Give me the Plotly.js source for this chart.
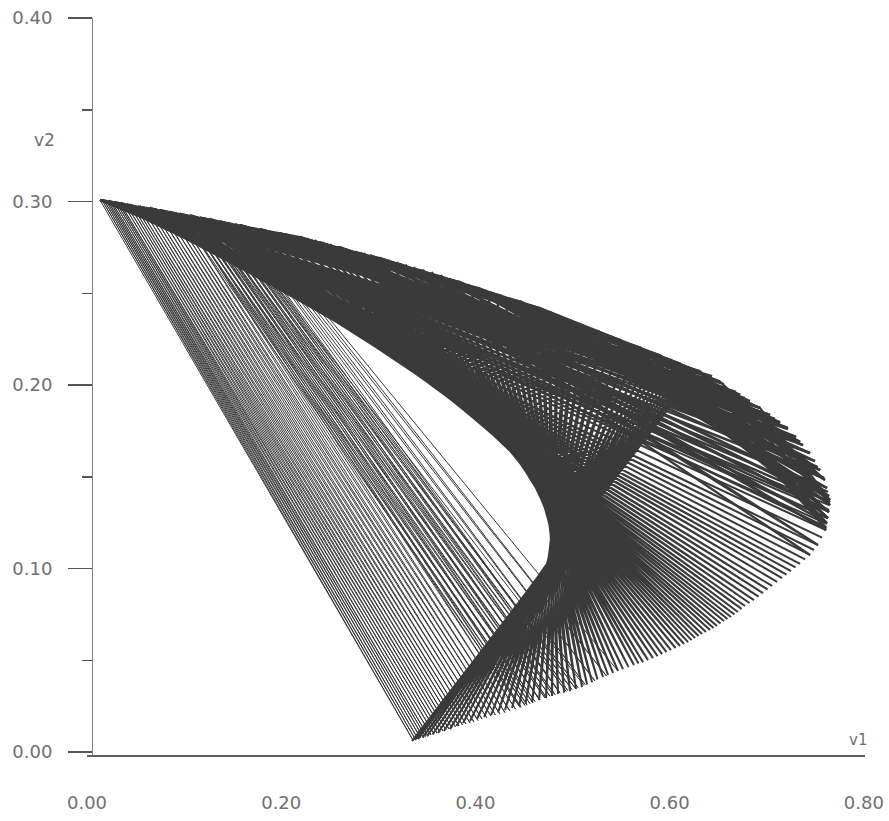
<!DOCTYPE html>
<html>
<head>
<meta charset="utf-8">
<script src="https://cdn.plot.ly/plotly-3.0.1.min.js"></script>
<style>
  html, body { margin: 0; padding: 0; background: #ffffff; }
  #chart { width: 889px; height: 821px; }
</style>
</head>
<body>
<div id="chart"></div>
<script>
// Tick values and labels
const xTickVals = [0.0, 0.2, 0.4, 0.6, 0.8];
const xTickText = ["0.00", "0.20", "0.40", "0.60", "0.80"];
const yTickVals = [0.0, 0.1, 0.2, 0.3, 0.4];
const yTickText = ["0.00", "0.10", "0.20", "0.30", "0.40"];
const yMinorVals = [0.05, 0.15, 0.25, 0.35];

// Trajectory H (alternating points: upper arc <-> lower boundary), forms the caustic
const hV1 = [0.0134,0.7642, 0.0150,0.7637, 0.0165,0.7631, 0.0181,0.7621, 0.0196,0.7611, 0.0216,0.7570,
  0.0237,0.7528, 0.0258,0.7487, 0.0278,0.7446, 0.0299,0.7395, 0.0319,0.7343, 0.0350,0.7297,
  0.0381,0.7250, 0.0438,0.7204, 0.0494,0.7158, 0.0561,0.7107, 0.0628,0.7055, 0.0700,0.7009,
  0.0772,0.6962, 0.0850,0.6916, 0.0927,0.6869, 0.1004,0.6823, 0.1081,0.6777, 0.1159,0.6741,
  0.1236,0.6704, 0.1313,0.6668, 0.1390,0.6632, 0.1468,0.6596, 0.1545,0.6560, 0.1622,0.6524,
  0.1699,0.6488, 0.1782,0.6452, 0.1864,0.6416, 0.1947,0.6375, 0.2029,0.6334, 0.2112,0.6298,
  0.2194,0.6262, 0.2271,0.6226, 0.2348,0.6190, 0.2426,0.6149, 0.2503,0.6107, 0.2591,0.6061,
  0.2678,0.6014, 0.2766,0.5968, 0.2853,0.5922, 0.2936,0.5876, 0.3018,0.5829, 0.3106,0.5778,
  0.3193,0.5726, 0.3281,0.5680, 0.3368,0.5633, 0.3461,0.5577, 0.3553,0.5520, 0.3646,0.5469,
  0.3738,0.5417, 0.3831,0.5366, 0.3924,0.5314, 0.4017,0.5258, 0.4109,0.5201, 0.4202,0.5150,
  0.4295,0.5098, 0.4388,0.5036, 0.4480,0.4974, 0.4573,0.4913, 0.4665,0.4851, 0.4758,0.4789,
  0.4851,0.4727, 0.4944,0.4655, 0.5036,0.4583, 0.5129,0.4516, 0.5221,0.4449, 0.5314,0.4377,
  0.5407,0.4305, 0.5500,0.4233, 0.5592,0.4161, 0.5670,0.4089, 0.5747,0.4016, 0.5814,0.3944,
  0.5881,0.3872, 0.5933,0.3805, 0.5984,0.3738, 0.6030,0.3677, 0.6076,0.3615, 0.6118,0.3559,
  0.6159,0.3502, 0.6195,0.3456, 0.6231,0.3409, 0.6262,0.3378, 0.6293,0.3347];
const hV2 = [0.3008,0.1346, 0.3008,0.1310, 0.3008,0.1275, 0.3005,0.1243, 0.3003,0.1210, 0.3000,0.1169,
  0.2997,0.1128, 0.2997,0.1101, 0.2997,0.1074, 0.2995,0.1050, 0.2992,0.1025, 0.2989,0.1006,
  0.2986,0.0986, 0.2981,0.0967, 0.2975,0.0948, 0.2970,0.0927, 0.2965,0.0905, 0.2957,0.0886,
  0.2948,0.0866, 0.2940,0.0847, 0.2932,0.0828, 0.2927,0.0812, 0.2921,0.0796, 0.2913,0.0780,
  0.2905,0.0763, 0.2897,0.0750, 0.2888,0.0736, 0.2877,0.0725, 0.2866,0.0714, 0.2858,0.0701,
  0.2850,0.0687, 0.2842,0.0676, 0.2834,0.0665, 0.2826,0.0654, 0.2817,0.0643, 0.2812,0.0632,
  0.2807,0.0621, 0.2799,0.0610, 0.2790,0.0599, 0.2779,0.0589, 0.2768,0.0578, 0.2755,0.0567,
  0.2741,0.0556, 0.2730,0.0545, 0.2719,0.0534, 0.2706,0.0523, 0.2692,0.0512, 0.2681,0.0501,
  0.2670,0.0490, 0.2657,0.0482, 0.2643,0.0474, 0.2630,0.0463, 0.2616,0.0452, 0.2600,0.0442,
  0.2583,0.0431, 0.2567,0.0420, 0.2550,0.0409, 0.2534,0.0395, 0.2518,0.0381, 0.2499,0.0368,
  0.2480,0.0354, 0.2464,0.0343, 0.2447,0.0332, 0.2434,0.0324, 0.2420,0.0316, 0.2401,0.0305,
  0.2381,0.0294, 0.2362,0.0283, 0.2343,0.0272, 0.2322,0.0262, 0.2300,0.0251, 0.2281,0.0240,
  0.2262,0.0229, 0.2243,0.0216, 0.2223,0.0202, 0.2207,0.0191, 0.2191,0.0180, 0.2180,0.0169,
  0.2169,0.0158, 0.2158,0.0142, 0.2147,0.0125, 0.2136,0.0115, 0.2125,0.0104, 0.2117,0.0096,
  0.2109,0.0087, 0.2101,0.0079, 0.2093,0.0071, 0.2088,0.0066, 0.2082,0.0060];

// Trajectory L (left fan: near the start point <-> bottom)
const lV1 = [0.0134,0.3357, 0.0155,0.3383, 0.0175,0.3409, 0.0196,0.3435, 0.0216,0.3460, 0.0237,0.3486,
  0.0257,0.3512, 0.0278,0.3543, 0.0299,0.3574, 0.0320,0.3605, 0.0340,0.3635, 0.0371,0.3666,
  0.0402,0.3697, 0.0433,0.3728, 0.0463,0.3759, 0.0494,0.3795, 0.0525,0.3831, 0.0561,0.3867,
  0.0597,0.3903, 0.0633,0.3945, 0.0669,0.3986, 0.0711,0.4027, 0.0752,0.4068, 0.0793,0.4115,
  0.0834,0.4161, 0.0876,0.4207, 0.0917,0.4253, 0.0963,0.4305, 0.1009,0.4356, 0.1061,0.4413,
  0.1112,0.4470, 0.1164,0.4532, 0.1215,0.4593, 0.1267,0.4660, 0.1318,0.4727, 0.1370,0.4799,
  0.1421,0.4871, 0.1473,0.4949, 0.1524,0.5026, 0.1576,0.5129, 0.1627,0.5232, 0.1679,0.5351,
  0.1730,0.5469];
const lV2 = [0.3008,0.0065, 0.3008,0.0068, 0.3008,0.0071, 0.3006,0.0077, 0.3003,0.0082, 0.3000,0.0085,
  0.2997,0.0087, 0.2997,0.0093, 0.2997,0.0098, 0.2995,0.0104, 0.2992,0.0109, 0.2989,0.0115,
  0.2986,0.0120, 0.2984,0.0126, 0.2981,0.0131, 0.2978,0.0137, 0.2975,0.0142, 0.2973,0.0148,
  0.2970,0.0153, 0.2968,0.0158, 0.2965,0.0163, 0.2960,0.0172, 0.2954,0.0180, 0.2951,0.0188,
  0.2948,0.0196, 0.2943,0.0202, 0.2937,0.0207, 0.2935,0.0215, 0.2932,0.0223, 0.2927,0.0234,
  0.2921,0.0245, 0.2916,0.0256, 0.2910,0.0267, 0.2905,0.0284, 0.2899,0.0300, 0.2894,0.0311,
  0.2888,0.0322, 0.2883,0.0336, 0.2877,0.0349, 0.2872,0.0368, 0.2866,0.0387, 0.2861,0.0414,
  0.2856,0.0441];

// Trajectory L2 (dense streak just left of the hollow)
const l2V1 = [0.0958,0.4459, 0.0999,0.4511, 0.1040,0.4562, 0.1081,0.4614, 0.1123,0.4665, 0.1164,0.4717,
  0.1205,0.4768, 0.1246,0.4820, 0.1287,0.4871, 0.1329,0.4933, 0.1370,0.4995, 0.1411,0.5057,
  0.1452,0.5118];
const l2V2 = [0.2934,0.0244, 0.2930,0.0254, 0.2925,0.0264, 0.2921,0.0275, 0.2917,0.0285, 0.2913,0.0295,
  0.2909,0.0305, 0.2905,0.0313, 0.2901,0.0321, 0.2897,0.0331, 0.2893,0.0341, 0.2889,0.0351,
  0.2885,0.0363];

// Trajectory D1 (short chords hugging the upper arc)
const d1V1 = [0.0134,0.1988, 0.0340,0.2194, 0.0546,0.2400, 0.0752,0.2606, 0.0958,0.2812, 0.1164,0.3018,
  0.1370,0.3224, 0.1576,0.3429, 0.1782,0.3635, 0.1988,0.3841, 0.2194,0.4047, 0.2400,0.4253,
  0.2606,0.4459, 0.2812,0.4665, 0.3018,0.4871, 0.3224,0.5077, 0.3429,0.5283, 0.3635,0.5489,
  0.3841,0.5695, 0.4047,0.5901, 0.4253,0.6107, 0.4459,0.6313, 0.4665,0.6519, 0.4871,0.6725,
  0.5077,0.6931, 0.5283,0.7137, 0.5489,0.7343, 0.5695,0.7549, 0.5901,0.7600, 0.6107,0.7652,
  0.6313,0.7600, 0.6519,0.7652, 0.6931,0.7652];
const d1V2 = [0.3008,0.2828, 0.2990,0.2807, 0.2972,0.2778, 0.2954,0.2749, 0.2934,0.2720, 0.2913,0.2692,
  0.2893,0.2659, 0.2872,0.2627, 0.2850,0.2594, 0.2828,0.2561, 0.2807,0.2526, 0.2778,0.2490,
  0.2749,0.2455, 0.2720,0.2420, 0.2692,0.2376, 0.2659,0.2332, 0.2627,0.2289, 0.2594,0.2247,
  0.2561,0.2205, 0.2526,0.2163, 0.2490,0.2118, 0.2455,0.2073, 0.2420,0.2019, 0.2376,0.1947,
  0.2332,0.1875, 0.2289,0.1795, 0.2247,0.1691, 0.2205,0.1535, 0.2163,0.1482, 0.2118,0.1373,
  0.2073,0.1482, 0.2019,0.1373, 0.1875,0.1346];

// Trajectory D2 (medium chords along the upper arc)
const d2V1 = [0.0134,0.3841, 0.0340,0.4047, 0.0546,0.4253, 0.0752,0.4459, 0.0958,0.4665, 0.1164,0.4871,
  0.1370,0.5077, 0.1576,0.5283, 0.1782,0.5489, 0.1988,0.5695, 0.2194,0.5901, 0.2400,0.6107,
  0.2606,0.6313, 0.2812,0.6519, 0.3018,0.6725, 0.3224,0.6931, 0.3429,0.7137, 0.3635,0.7343,
  0.3841,0.7549, 0.4253,0.7600, 0.4665,0.7652, 0.5077,0.7652, 0.5489,0.7642, 0.5901,0.7631];
const d2V2 = [0.3008,0.2561, 0.2990,0.2526, 0.2972,0.2490, 0.2954,0.2455, 0.2934,0.2420, 0.2913,0.2376,
  0.2893,0.2332, 0.2872,0.2289, 0.2850,0.2247, 0.2828,0.2205, 0.2807,0.2163, 0.2778,0.2118,
  0.2749,0.2073, 0.2720,0.2019, 0.2692,0.1947, 0.2659,0.1875, 0.2627,0.1795, 0.2594,0.1691,
  0.2561,0.1535, 0.2490,0.1482, 0.2420,0.1373, 0.2332,0.1346, 0.2247,0.1308, 0.2163,0.1275];

// Trajectory D3 (long chords toward the right tip)
const d3V1 = [0.0134,0.6313, 0.0288,0.6437, 0.0443,0.6560, 0.0649,0.6684, 0.0855,0.6807, 0.1061,0.6931,
  0.1267,0.7034, 0.1524,0.7137, 0.1782,0.7219, 0.2039,0.7302, 0.2297,0.7374, 0.2606,0.7446,
  0.2915,0.7497, 0.3224,0.7549, 0.3532,0.7590, 0.3841,0.7621, 0.4150,0.7642, 0.4459,0.7652,
  0.4768,0.7652, 0.5077,0.7642, 0.5386,0.7631, 0.5695,0.7621, 0.6004,0.7611, 0.6313,0.7611];
const d3V2 = [0.3008,0.2076, 0.2997,0.2049, 0.2981,0.2005, 0.2965,0.1962, 0.2943,0.1918, 0.2926,0.1875,
  0.2905,0.1837, 0.2877,0.1798, 0.2850,0.1766, 0.2823,0.1717, 0.2790,0.1673, 0.2752,0.1629,
  0.2708,0.1586, 0.2659,0.1537, 0.2610,0.1493, 0.2561,0.1439, 0.2507,0.1395, 0.2458,0.1373,
  0.2398,0.1346, 0.2332,0.1308, 0.2267,0.1275, 0.2207,0.1248, 0.2142,0.1221, 0.2076,0.1210];

// Trajectory E1 (from the start point around the right tip)
const e1V1 = [0.0134,0.6725, 0.0165,0.6828, 0.0196,0.6931, 0.0227,0.7034, 0.0257,0.7137, 0.0288,0.7219,
  0.0319,0.7302, 0.0350,0.7374, 0.0381,0.7446, 0.0412,0.7497, 0.0443,0.7549, 0.0484,0.7590,
  0.0525,0.7621, 0.0566,0.7642, 0.0608,0.7652, 0.0649,0.7642, 0.0700,0.7631, 0.0752,0.7611];
const e1V2 = [0.3008,0.1946, 0.3008,0.1913, 0.3003,0.1875, 0.3003,0.1837, 0.2997,0.1793, 0.2997,0.1760,
  0.2992,0.1717, 0.2992,0.1673, 0.2986,0.1629, 0.2986,0.1586, 0.2981,0.1537, 0.2975,0.1493,
  0.2975,0.1439, 0.2970,0.1395, 0.2965,0.1362, 0.2965,0.1319, 0.2959,0.1275, 0.2954,0.1226];

// Trajectory E2 (from the upper arc around the right tip)
const e2V1 = [0.0958,0.6777, 0.1081,0.6931, 0.1205,0.7086, 0.1329,0.7219, 0.1452,0.7343, 0.1576,0.7446,
  0.1699,0.7528, 0.1823,0.7590, 0.1946,0.7631, 0.2070,0.7652, 0.2194,0.7642, 0.2348,0.7621,
  0.2503,0.7611, 0.2657,0.7528, 0.2812,0.7446];
const e2V2 = [0.2932,0.1929, 0.2921,0.1875, 0.2910,0.1815, 0.2894,0.1760, 0.2883,0.1689, 0.2872,0.1629,
  0.2856,0.1553, 0.2845,0.1493, 0.2828,0.1417, 0.2817,0.1362, 0.2807,0.1308, 0.2785,0.1248,
  0.2763,0.1210, 0.2741,0.1128, 0.2719,0.1074];

const ink = '#3a3a3a';
function traj(xs, ys, w) {
  return { x: xs, y: ys, type: 'scatter', mode: 'lines', line: { color: ink, width: w },
           hoverinfo: 'skip', showlegend: false };
}
const traces = [
  traj(lV1, lV2, 1.0),
  traj(l2V1, l2V2, 1.0),
  traj(hV1, hV2, 2.0),
  traj(d1V1, d1V2, 2.0),
  traj(d2V1, d2V2, 2.0),
  traj(d3V1, d3V2, 2.4),
  traj(e1V1, e1V2, 2.4),
  traj(e2V1, e2V2, 2.4)
];

const tickFont = { family: 'DejaVu Sans, Arial, sans-serif', size: 18, color: '#707070' };

const layout = {
  width: 889, height: 821,
  margin: { l: 87, r: 24, t: 18, b: 66 },
  paper_bgcolor: '#ffffff', plot_bgcolor: '#ffffff',
  showlegend: false,
  xaxis: {
    range: [0, 0.8012],
    tickmode: 'array', tickvals: xTickVals, ticktext: xTickText,
    ticks: 'outside', ticklen: 30, tickcolor: 'rgba(0,0,0,0)',
    showline: true, linecolor: '#606060', linewidth: 2,
    showgrid: false, zeroline: false,
    tickfont: tickFont
  },
  yaxis: {
    range: [-0.0016, 0.4],
    anchor: 'free', position: 0.0064,
    tickmode: 'array', tickvals: yTickVals, ticktext: yTickText,
    ticks: 'outside', ticklen: 24, tickwidth: 1.5, tickcolor: '#555555',
    ticklabelstandoff: 12,
    minor: { tickmode: 'array', tickvals: yMinorVals, ticks: 'outside', ticklen: 10, tickwidth: 1.5, tickcolor: '#555555', showgrid: false },
    showline: true, linecolor: '#808080', linewidth: 1,
    showgrid: false, zeroline: false,
    tickfont: tickFont
  },
  annotations: [
    { text: 'v2', xref: 'paper', yref: 'paper', x: -0.054, y: 0.8345, xanchor: 'center', yanchor: 'middle', showarrow: false,
      font: { family: 'DejaVu Sans, Arial, sans-serif', size: 17, color: '#707070' } },
    { text: 'v1', xref: 'paper', yref: 'paper', x: 0.991, y: 0.005, xanchor: 'center', yanchor: 'bottom', showarrow: false,
      font: { family: 'DejaVu Sans, Arial, sans-serif', size: 15, color: '#707070' } }
  ]
};

Plotly.newPlot('chart', traces, layout, { staticPlot: true, displayModeBar: false });
</script>
</body>
</html>
